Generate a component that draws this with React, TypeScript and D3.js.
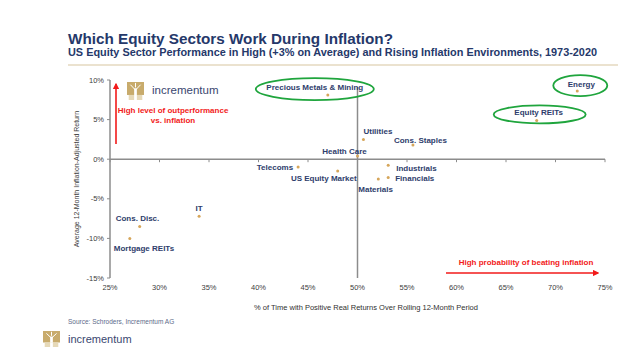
import React from "react";
import * as d3 from "d3";

const sectors = ["Precious Metals & Mining", "Utilities", "Cons. Staples", "Energy", "Equity REITs", "Health Care", "Telecoms", "US Equity Market", "Industrials", "Financials", "Materials", "IT", "Cons. Disc.", "Mortgage REITs"];
const pctPositive = [47.0, 50.6, 55.6, 72.2, 68.1, 50.0, 44.0, 48.0, 53.1, 53.1, 52.1, 34.0, 28.0, 27.0];
const avgReturn = [8.1, 2.5, 1.8, 8.6, 4.9, 0.4, -1.0, -1.5, -0.75, -2.3, -2.5, -7.2, -8.5, -10.0];
const xTicks = [25, 30, 35, 40, 45, 50, 55, 60, 65, 70, 75];
const yTicks = [10, 5, 0, -5, -10, -15];
const highlighted = ["Precious Metals & Mining", "Energy", "Equity REITs"];

// label layout (pixels relative to point)
const labelLayout: Record<string, [number, number, string]> = {
  "Precious Metals & Mining": [-13, -8, "middle"],
  "Utilities": [0, -8, "start"],
  "Cons. Staples": [-19, -5, "start"],
  "Energy": [4, -7, "middle"],
  "Equity REITs": [2, -8, "middle"],
  "Health Care": [-13, -5, "middle"],
  "Telecoms": [-5, 0, "end"],
  "US Equity Market": [19, 7, "end"],
  "Industrials": [8, 3, "start"],
  "Financials": [7, 1, "start"],
  "Materials": [-20, 10, "start"],
  "IT": [0, -8, "middle"],
  "Cons. Disc.": [-24, -9, "start"],
  "Mortgage REITs": [-16, 10, "start"],
};
const ellipseLayout: Record<string, [number, number, number, number]> = {
  "Precious Metals & Mining": [-13, -6, 59, 11],
  "Energy": [3, -5.5, 27, 10.5],
  "Equity REITs": [3, -6, 46, 9],
};

const FONT = "'Liberation Sans', Arial, sans-serif";
const NAVY = "#25386a";

function Tree({ x, y, w, h }: { x: number; y: number; w: number; h: number }) {
  return (
    <g transform={`translate(${x},${y})`}>
      <rect x={0} y={0} width={w} height={h * 0.72} fill="#c8ab6c" />
      <path d={`M${w * 0.42},${h * 0.35} L${w * 0.42},${h} L${w * 0.58},${h} L${w * 0.58},${h * 0.35} Z`} fill="#fff" />
      <path d={`M${w * 0.5},${h * 0.45} L${w * 0.2},${h * 0.15} M${w * 0.5},${h * 0.45} L${w * 0.8},${h * 0.15} M${w * 0.5},${h * 0.3} L${w * 0.5},${h * 0.05}`} stroke="#fff" strokeWidth={1} />
      <rect x={w * 0.1} y={h * 0.72} width={w * 0.8} height={h * 0.28} fill="#e6d9b8" />
      <rect x={w * 0.42} y={h * 0.72} width={w * 0.16} height={h * 0.28} fill="#fff" />
    </g>
  );
}

export default function App() {
  const W = 640, H = 351;
  const x = d3.scaleLinear().domain([25, 75]).range([110, 605]);
  const y = d3.scaleLinear().domain([-15, 10]).range([278, 80]);
  const axisColor = "#8c8c8c";

  return (
    <svg width={W} height={H} style={{ position: "absolute", left: 0, top: 0, background: "#fff" }} fontFamily={FONT}>
      <defs>
        <marker id="arrRed" viewBox="0 0 10 10" refX="8" refY="5" markerWidth="4" markerHeight="4" orient="auto">
          <path d="M0,0 L10,5 L0,10 Z" fill="#f21a1a" />
        </marker>
      </defs>
      <text x={68} y={44} fontSize={15} fontWeight="bold" fill={NAVY} textLength={325} lengthAdjust="spacingAndGlyphs">Which Equity Sectors Work During Inflation?</text>
      <text x={68} y={56} fontSize={10.5} fontWeight="bold" fill={NAVY} textLength={529} lengthAdjust="spacingAndGlyphs">US Equity Sector Performance in High (+3% on Average) and Rising Inflation Environments, 1973-2020</text>
      <line x1={68} x2={618} y1={65} y2={65} stroke="#ebe2cf" strokeWidth={2} />

      {/* logo in chart */}
      <Tree x={127} y={82} w={17} h={18} />
      <text x={152} y={94} fontSize={11.5} fill="#3a4770">incrementum</text>

      {/* axes */}
      <line x1={x(25)} x2={x(25)} y1={y(10)} y2={y(-15)} stroke={axisColor} strokeWidth={1.5} />
      <line x1={x(25)} x2={x(75)} y1={y(0)} y2={y(0)} stroke={axisColor} strokeWidth={1.5} />
      <line x1={x(50)} x2={x(50)} y1={87} y2={y(-15)} stroke={axisColor} strokeWidth={1.5} />
      {xTicks.map((t) => (
        <g key={"xt" + t}>
          <line x1={x(t)} x2={x(t)} y1={y(0)} y2={y(0) + 3} stroke={axisColor} strokeWidth={1} />
          <text x={x(t)} y={290} fontSize={7.5} textAnchor="middle" fill="#404040">{t}%</text>
        </g>
      ))}
      {yTicks.map((t) => (
        <g key={"yt" + t}>
          <line x1={x(25) - 3} x2={x(25)} y1={y(t)} y2={y(t)} stroke={axisColor} strokeWidth={1} />
          <text x={104} y={y(t) + 2.5} fontSize={7.5} textAnchor="end" fill="#404040">{t}%</text>
        </g>
      ))}
      <text transform={`translate(79,${(y(10) + y(-15)) / 2}) rotate(-90)`} fontSize={7} textAnchor="middle" fill="#404040">Average 12-Month Inflation-Adjusted Return</text>
      <text x={366} y={310} fontSize={7.5} textAnchor="middle" fill="#303030">% of Time with Positive Real Returns Over Rolling 12-Month Period</text>

      {/* points */}
      {sectors.map((s, i) => (
        <circle key={"p" + s} cx={x(pctPositive[i])} cy={y(avgReturn[i])} r={1.5} fill="#d6a65a" />
      ))}
      {sectors.map((s, i) => {
        const [dx, dy, anchor] = labelLayout[s];
        return (
          <text key={"l" + s} x={x(pctPositive[i]) + dx} y={y(avgReturn[i]) + dy + 3} fontSize={8} fontWeight="bold" fill="#2e3d6c" textAnchor={anchor as any}>{s}</text>
        );
      })}
      {highlighted.map((s) => {
        const i = sectors.indexOf(s);
        const [dx, dy, rx, ry] = ellipseLayout[s];
        return <ellipse key={"e" + s} cx={x(pctPositive[i]) + dx} cy={y(avgReturn[i]) + dy} rx={rx} ry={ry} fill="none" stroke="#1fa53d" strokeWidth={1.8} />;
      })}

      {/* red annotations */}
      <line x1={116} x2={116} y1={144} y2={84} stroke="#f21a1a" strokeWidth={1.6} markerEnd="url(#arrRed)" />
      <text x={173} y={113} fontSize={8} fontWeight="bold" fill="#f21a1a" textAnchor="middle">High level of outperformance</text>
      <text x={173} y={123} fontSize={8} fontWeight="bold" fill="#f21a1a" textAnchor="middle">vs. inflation</text>
      <line x1={446} x2={598} y1={273} y2={273} stroke="#f21a1a" strokeWidth={1.6} markerEnd="url(#arrRed)" />
      <text x={526} y={265} fontSize={8} fontWeight="bold" fill="#f21a1a" textAnchor="middle">High probability of beating inflation</text>

      {/* footer */}
      <text x={68} y={324} fontSize={6.5} fill="#5d6a8a">Source: Schroders, Incrementum AG</text>
      <Tree x={43} y={331} w={17} h={16} />
      <text x={68} y={343} fontSize={11} fill="#3a4770">incrementum</text>
    </svg>
  );
}
